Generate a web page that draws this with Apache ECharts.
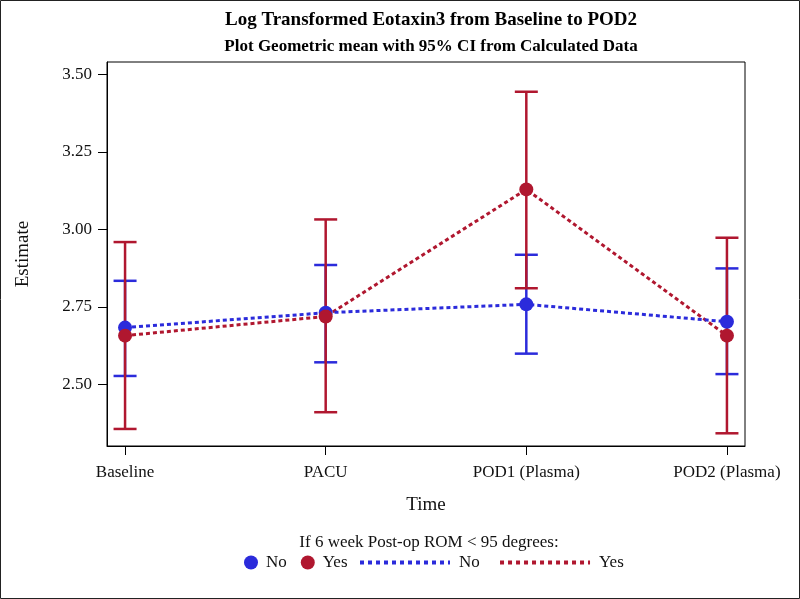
<!DOCTYPE html>
<html>
<head>
<meta charset="utf-8">
<script src="https://cdn.jsdelivr.net/npm/echarts@6/dist/echarts.min.js"></script>
<style>html,body{margin:0;padding:0;background:#fff}#c{width:800px;height:599px}</style>
</head>
<body>
<div id="c"></div>
<script>
var categories = ['Baseline', 'PACU', 'POD1 (Plasma)', 'POD2 (Plasma)'];
var noMean  = [2.683, 2.731, 2.758, 2.702];
var noLower = [2.527, 2.571, 2.599, 2.533];
var noUpper = [2.834, 2.885, 2.918, 2.874];
var yesMean  = [2.657, 2.719, 3.129, 2.657];
var yesLower = [2.356, 2.410, 2.810, 2.342];
var yesUpper = [2.959, 3.032, 3.444, 2.973];
var yTicks = [2.50, 2.75, 3.00, 3.25, 3.50];
var xTicks = [0, 1, 2, 3];

var BLUE = '#2B2BDB';
var RED = '#B0172F';
var FONT = '"Liberation Serif", "DejaVu Serif", serif';

function pts(arr) { return arr.map(function (v, i) { return [i, v]; }); }
function bars(lo, hi) { return lo.map(function (v, i) { return [i, v, hi[i]]; }); }

function errRender(color) {
  return function (params, api) {
    var x = api.value(0), lo = api.value(1), hi = api.value(2);
    var p1 = api.coord([x, hi]), p2 = api.coord([x, lo]);
    var hw = 11.5;
    var st = { stroke: color, lineWidth: 2.5 };
    return {
      type: 'group',
      children: [
        { type: 'line', shape: { x1: p1[0], y1: p1[1], x2: p2[0], y2: p2[1] }, style: st },
        { type: 'line', shape: { x1: p1[0] - hw, y1: p1[1], x2: p1[0] + hw, y2: p1[1] }, style: st },
        { type: 'line', shape: { x1: p2[0] - hw, y1: p2[1], x2: p2[0] + hw, y2: p2[1] }, style: st }
      ]
    };
  };
}

var chart = echarts.init(document.getElementById('c'), null, { renderer: 'canvas' });
chart.setOption({
  animation: false,
  backgroundColor: '#fff',
  textStyle: { fontFamily: FONT, color: '#111' },
  title: [
    { text: 'Log Transformed Eotaxin3 from Baseline to POD2', left: 426, textAlign: 'center', top: 6,
      textStyle: { fontFamily: FONT, fontSize: 19, fontWeight: 'bold', color: '#000' } },
    { text: 'Plot Geometric mean with 95% CI from Calculated Data', left: 426, textAlign: 'center', top: 33,
      textStyle: { fontFamily: FONT, fontSize: 17, fontWeight: 'bold', color: '#000' } },
    { text: 'If 6 week Post-op ROM < 95 degrees:', left: 424, textAlign: 'center', top: 529,
      textStyle: { fontFamily: FONT, fontSize: 17, fontWeight: 'normal', color: '#111' } }
  ],
  graphic: [
    { type: 'rect', shape: { x: 0.5, y: 0.5, width: 799, height: 598 }, style: { fill: 'none', stroke: '#222', lineWidth: 1 }, silent: true }
  ],
  legend: [
    { data: ['No', 'Yes'], left: 239, top: 549, itemWidth: 14, itemHeight: 14, itemGap: 14, icon: 'circle',
      textStyle: { fontFamily: FONT, fontSize: 17, color: '#111', padding: [0, 0, 0, 3] } },
    { data: ['No ', 'Yes '], left: 353, top: 549, itemWidth: 90, itemHeight: 14, itemGap: 14,
      itemStyle: { opacity: 0 },
      lineStyle: { width: 4, type: [4, 4] },
      textStyle: { fontFamily: FONT, fontSize: 17, color: '#111', padding: [0, 0, 0, 4] } }
  ],
  grid: { left: 107, right: 55, top: 62, bottom: 153, show: true, borderColor: '#000', borderWidth: 1, backgroundColor: '#fff' },
  xAxis: {
    type: 'value', min: -0.09, max: 3.09,
    name: 'Time', nameLocation: 'middle', nameGap: 50,
    nameTextStyle: { fontFamily: FONT, fontSize: 19, color: '#111' },
    axisLine: { show: true, onZero: false, lineStyle: { color: '#000', width: 1 } },
    axisTick: { show: true, length: 9, lineStyle: { color: '#000' }, customValues: xTicks },
    axisLabel: { customValues: xTicks, margin: 18, fontFamily: FONT, fontSize: 17, color: '#111',
      formatter: function (v) { return categories[Math.round(v)]; } },
    splitLine: { show: false }
  },
  yAxis: {
    type: 'value', min: 2.301, max: 3.540,
    name: 'Estimate', nameLocation: 'middle', nameGap: 74, nameRotate: 90,
    nameTextStyle: { fontFamily: FONT, fontSize: 19, color: '#111' },
    axisLine: { show: true, onZero: false, lineStyle: { color: '#000', width: 1 } },
    axisTick: { show: true, length: 9, lineStyle: { color: '#000' }, customValues: yTicks },
    axisLabel: { customValues: yTicks, margin: 15, fontFamily: FONT, fontSize: 17, color: '#111',
      formatter: function (v) { return v.toFixed(2); } },
    splitLine: { show: false }
  },
  series: [
    { type: 'custom', name: 'noErr', data: bars(noLower, noUpper), renderItem: errRender(BLUE),
      encode: { x: 0, y: [1, 2] }, z: 2, silent: true },
    { type: 'custom', name: 'yesErr', data: bars(yesLower, yesUpper), renderItem: errRender(RED),
      encode: { x: 0, y: [1, 2] }, z: 2, silent: true },
    { type: 'line', name: 'Yes ', data: pts(yesMean), symbol: 'none', showSymbol: false, z: 3,
      lineStyle: { color: RED, width: 3, type: [4, 3] }, itemStyle: { color: RED } },
    { type: 'line', name: 'No ', data: pts(noMean), symbol: 'none', showSymbol: false, z: 3,
      lineStyle: { color: BLUE, width: 3, type: [4, 3] }, itemStyle: { color: BLUE } },
    { type: 'scatter', name: 'No', data: pts(noMean), symbol: 'circle', symbolSize: 14, z: 4,
      itemStyle: { color: BLUE, opacity: 1 } },
    { type: 'scatter', name: 'Yes', data: pts(yesMean), symbol: 'circle', symbolSize: 14, z: 5,
      itemStyle: { color: RED, opacity: 1 } }
  ]
});
</script>
</body>
</html>
